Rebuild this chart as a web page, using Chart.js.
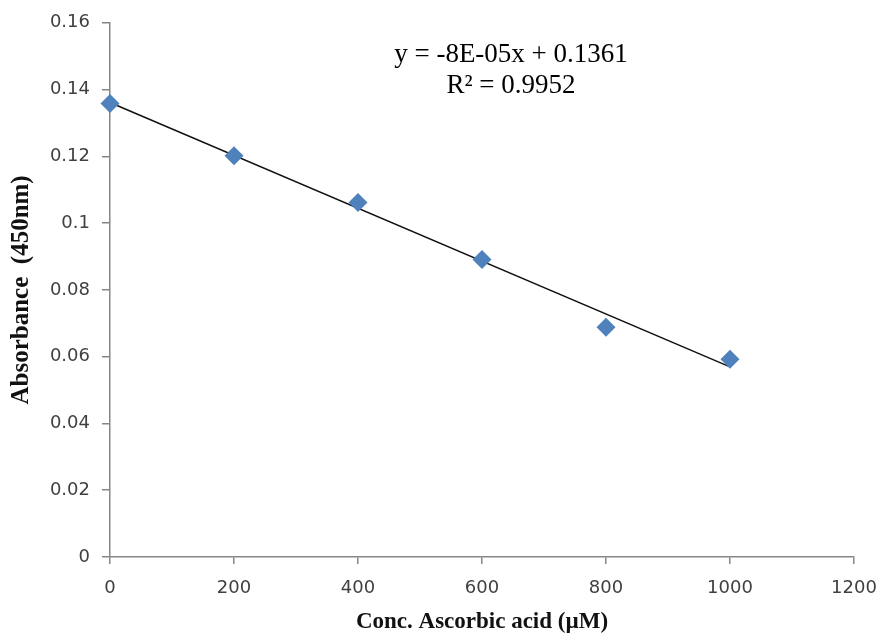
<!DOCTYPE html>
<html>
<head>
<meta charset="utf-8">
<script src="https://cdn.jsdelivr.net/npm/chart.js@4/dist/chart.umd.min.js"></script>
<style>
  html, body { margin: 0; padding: 0; background: #fff; }
</style>
</head>
<body>
<canvas id="absChart" width="880" height="636"></canvas>
<script>
// Concentração de ácido ascórbico (µM) e absorbância lida a 450 nm
const concentracoes = [0, 200, 400, 600, 800, 1000];
const absorbancias = [0.1358, 0.1202, 0.1062, 0.0891, 0.0688, 0.0592];
const ticksX = [0, 200, 400, 600, 800, 1000, 1200];
const ticksY = [0, 0.02, 0.04, 0.06, 0.08, 0.1, 0.12, 0.14, 0.16];

// Regressão linear (mínimos quadrados) para a linha de tendência
const n = concentracoes.length;
const mx = concentracoes.reduce((a, b) => a + b, 0) / n;
const my = absorbancias.reduce((a, b) => a + b, 0) / n;
let sxy = 0, sxx = 0;
concentracoes.forEach((x, i) => {
    sxy += (x - mx) * (absorbancias[i] - my);
    sxx += (x - mx) * (x - mx);
});
const inclinacao = sxy / sxx;
const intercepto = my - inclinacao * mx;
const xMin = concentracoes[0];
const xMax = concentracoes[n - 1];
const tendencia = [
    { x: xMin, y: intercepto + inclinacao * xMin },
    { x: xMax, y: intercepto + inclinacao * xMax }
];

const equacao = ['y = -8E-05x + 0.1361', 'R² = 0.9952'];

const corEixo = '#868686';
const fonteTicks = { family: 'DejaVu Sans', size: 18 };
const fonteTitulo = { family: 'Liberation Serif', size: 23, weight: 'bold' };

// Plugin simples para escrever a equação da reta
const equacaoPlugin = {
    id: 'equacao',
    afterDatasetsDraw(chart) {
        const ctx = chart.ctx;
        ctx.save();
        ctx.font = '27px "Liberation Serif"';
        ctx.fillStyle = '#000';
        ctx.textAlign = 'center';
        ctx.textBaseline = 'middle';
        ctx.fillText(equacao[0], 511, 55);
        ctx.fillText(equacao[1], 511, 86);
        ctx.restore();
    }
};

new Chart(document.getElementById('absChart'), {
    type: 'scatter',
    data: {
        datasets: [
            {
                label: 'Tendência',
                data: tendencia,
                showLine: true,
                borderColor: '#111',
                borderWidth: 1.5,
                pointRadius: 0,
                pointHoverRadius: 0,
                clip: false,
                order: 2
            },
            {
                label: 'Absorbância',
                data: concentracoes.map((x, i) => ({ x: x, y: absorbancias[i] })),
                pointStyle: 'rectRot',
                pointRadius: 9.5,
                backgroundColor: '#4F81BD',
                borderColor: '#4F81BD',
                borderWidth: 0,
                clip: false,
                order: 1
            }
        ]
    },
    options: {
        responsive: false,
        animation: false,
        devicePixelRatio: 1,
        layout: { padding: { top: 22, right: 26, left: 0, bottom: 0 } },
        plugins: {
            legend: { display: false },
            tooltip: { enabled: false }
        },
        scales: {
            x: {
                type: 'linear',
                min: 0,
                max: 1200,
                afterBuildTicks: s => { s.ticks = ticksX.map(v => ({ value: v })); },
                afterFit: s => {
                    s.height = 79;
                    s.paddingLeft = 0;
                    s.paddingRight = 0;
                },
                border: { color: corEixo, width: 1.5 },
                grid: { drawOnChartArea: false, drawTicks: true, tickLength: 7, color: corEixo, lineWidth: 1.5 },
                ticks: {
                    color: '#404040',
                    font: fonteTicks,
                    padding: 14,
                    maxRotation: 0,
                    callback: v => String(v)
                },
                title: {
                    display: true,
                    text: 'Conc. Ascorbic acid (µM)',
                    color: '#111',
                    font: fonteTitulo,
                    padding: { top: 4, bottom: 0 }
                }
            },
            y: {
                type: 'linear',
                min: 0,
                max: 0.16,
                afterBuildTicks: s => { s.ticks = ticksY.map(v => ({ value: v })); },
                afterFit: s => { s.width = 110; },
                border: { color: corEixo, width: 1.5 },
                grid: { drawOnChartArea: false, drawTicks: true, tickLength: 8, color: corEixo, lineWidth: 1.5 },
                ticks: {
                    color: '#404040',
                    font: fonteTicks,
                    padding: 12,
                    callback: v => String(Math.round(v * 100) / 100)
                },
                title: {
                    display: true,
                    text: 'Absorbance  (450nm)',
                    color: '#111',
                    font: { family: 'Liberation Serif', size: 25, weight: 'bold' },
                    padding: { top: 7, bottom: 0 }
                }
            }
        }
    },
    plugins: [equacaoPlugin]
});
</script>
</body>
</html>
